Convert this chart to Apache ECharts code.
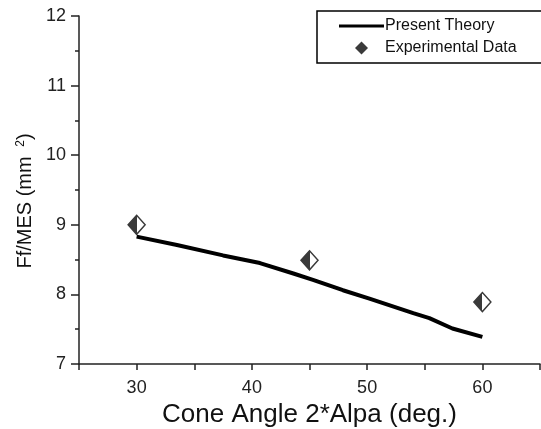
<!DOCTYPE html>
<html>
<head>
<meta charset="utf-8">
<script src="https://cdn.jsdelivr.net/npm/echarts@6/dist/echarts.min.js"></script>
<style>
  html, body { margin: 0; padding: 0; background: #fff; }
  #chart { width: 541px; height: 429px; }
</style>
</head>
<body>
<div id="chart"></div>
<script>
// theory curve
var theoryX = [30, 33.5, 37.5, 40.7, 43.6, 45.3, 47.9, 50.2, 54, 55.4, 57.4, 60];
var theoryY = [8.83, 8.71, 8.56, 8.45, 8.30, 8.21, 8.06, 7.94, 7.73, 7.66, 7.51, 7.39];

// experimental points
var expX = [30, 45, 60];
var expY = [9.0, 8.49, 7.89];

var xLabels = [30, 40, 50, 60];

var font = "Liberation Sans";
var halfDiamond = {
  type: "linear", x: 0, y: 0, x2: 1, y2: 0,
  colorStops: [
    { offset: 0, color: "#3a3a3a" },
    { offset: 0.5, color: "#3a3a3a" },
    { offset: 0.5, color: "#ffffff" },
    { offset: 1, color: "#ffffff" }
  ]
};

var chart = echarts.init(document.getElementById("chart"));
chart.setOption({
  animation: false,
  textStyle: { fontFamily: font },
  grid: { left: 79, right: 1, top: 16, bottom: 65, outerBoundsMode: "none" },
  legend: {
    orient: "vertical",
    left: 317,
    top: 11,
    padding: [7, 26, 7, 22],
    itemGap: 6,
    itemWidth: 45,
    itemHeight: 14,
    borderColor: "#000",
    borderWidth: 1.5,
    textStyle: { fontFamily: font, fontSize: 16, color: "#111", padding: [0, 0, 0, -4] },
    data: [
      {
        name: "Present Theory",
        icon: "path://M0,0 M45,14 M0,5.5 L45,5.5 L45,8.5 L0,8.5 Z",
        itemStyle: { color: "#000", borderWidth: 0 }
      },
      {
        name: "Experimental Data",
        icon: "path://M0,0 M45,14 M16,7 L22.5,0.5 L29,7 L22.5,13.5 Z",
        itemStyle: { color: "#3a3a3a", borderWidth: 0 }
      }
    ]
  },
  xAxis: {
    type: "value",
    min: 25,
    max: 65,
    interval: 5,
    name: "Cone Angle 2*Alpa (deg.)",
    nameLocation: "middle",
    nameGap: 37,
    nameTextStyle: { fontSize: 26, color: "#111" },
    axisLine: { lineStyle: { color: "#222", width: 1.5 } },
    axisTick: { inside: false, length: 6, lineStyle: { color: "#222", width: 1.5 } },
    axisLabel: {
      fontSize: 18,
      color: "#222",
      margin: 15,
      formatter: function (v) { return xLabels.indexOf(v) >= 0 ? String(v) : ""; }
    },
    splitLine: { show: false }
  },
  yAxis: {
    type: "value",
    min: 7,
    max: 12,
    interval: 1,
    name: "Ff/MES (mm {sup|2})",
    nameLocation: "middle",
    nameGap: 41,
    nameTextStyle: {
      fontSize: 20, color: "#111",
      padding: [0, 22, 0, 0],
      rich: { sup: { fontSize: 12, verticalAlign: "top", padding: [0, 0, 9, 4], color: "#111" } }
    },
    axisLine: { show: true, lineStyle: { color: "#222", width: 1.5 } },
    axisTick: { show: true, length: 8, lineStyle: { color: "#222", width: 1.5 } },
    minorTick: { show: true, splitNumber: 2, length: 4, lineStyle: { color: "#222", width: 1.5 } },
    axisLabel: { fontSize: 18, color: "#222", margin: 13 },
    splitLine: { show: false }
  },
  series: [
    {
      name: "Present Theory",
      type: "line",
      symbol: "none",
      lineStyle: { color: "#000", width: 4 },
      itemStyle: { color: "#000" },
      data: theoryX.map(function (x, i) { return [x, theoryY[i]]; })
    },
    {
      name: "Experimental Data",
      type: "scatter",
      symbol: "diamond",
      symbolSize: [17, 19],
      itemStyle: { color: halfDiamond, borderColor: "#3a3a3a", borderWidth: 1.5, opacity: 1 },
      data: expX.map(function (x, i) { return [x, expY[i]]; })
    }
  ]
});
</script>
</body>
</html>
